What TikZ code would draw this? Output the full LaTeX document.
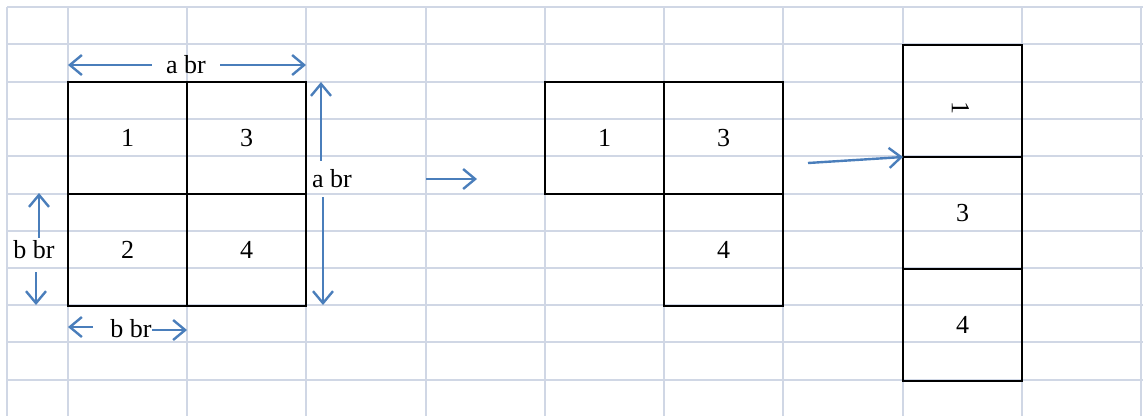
\documentclass[tikz,border=0pt]{standalone}
\usepackage{fontspec}
\setmainfont{Liberation Serif}
\usepackage{tikz}
\usetikzlibrary{arrows.meta,positioning,calc}
\definecolor{gridcol}{HTML}{D0D7E5}
\definecolor{arrowblue}{HTML}{4A7EBB}

\begin{document}
\begin{tikzpicture}[x=1pt, y=-1pt,
  cell/.style={draw, line width=2pt, minimum width=119pt, minimum height=112pt,
               inner sep=0pt, outer sep=0pt, font=\fontsize{26}{31}\selectfont},
  dimlbl/.style={inner sep=0pt, font=\fontsize{26}{31}\selectfont},
  gridln/.style={gridcol, line width=2pt},
  arr/.style={-{Straight Barb[length=12pt, width=20pt]}, line width=2.4pt, arrowblue}
]
  \useasboundingbox (0,0) rectangle (1143,416);
  \foreach \gx in {7,68,187,306,426,545,664,783,903,1022,1141}
    \draw[gridln] (\gx,7) -- (\gx,416);
  \foreach \gy in {7,44,82,119,156,194,231,268,305,342,380}
    \draw[gridln] (7,\gy) -- (1143,\gy);

  \node[cell] (l1) at (127.5,138) {1};
  \node[cell, right=0pt of l1] (l3) {3};
  \node[cell, below=0pt of l1] (l2) {2};
  \node[cell, right=0pt of l2] (l4) {4};

  \node[cell] (m1) at (604.5,138) {1};
  \node[cell, right=0pt of m1] (m3) {3};
  \node[cell, below=0pt of m3] (m4) {4};

  \node[cell] (r1) at (962.5,101) {\raisebox{-14pt}{\rotatebox{-90}{1}}\hspace*{4pt}};
  \node[cell, below=0pt of r1] (r3) {3};
  \node[cell, below=0pt of r3] (r4) {4};

  \node[dimlbl, inner xsep=14pt] (atop) at (186,65) {a br};
  \draw[arr] (atop) -- (l1.north west |- atop);
  \draw[arr] (atop) -- (l3.north east |- atop);

  \node[dimlbl, inner ysep=9pt] (aside) at (332,179) {a br};
  \coordinate (asT) at (321,82);
  \coordinate (asB) at (323,305);
  \draw[arr] (aside.north -| asT) -- (asT);
  \draw[arr] (aside.south -| asB) -- (asB);

  \node[dimlbl, inner ysep=3pt] (bside) at (34,250) {b br};
  \coordinate (bsT) at (39,193);
  \coordinate (bsB) at (36,305);
  \draw[arr] (bside.north -| bsT) -- (bsT);
  \draw[arr] ([yshift=-10pt]bside.south -| bsB) -- (bsB);

  \node[dimlbl] (bbot) at (131,329) {b br};
  \coordinate (bbL) at (68,327);
  \coordinate (bbR) at (187,330);
  \draw[arr] ([xshift=-17pt]bbot.west |- bbL) -- (bbL);
  \draw[arr] (bbot.east |- bbR) -- (bbR);

  \coordinate (midS) at (426,179);
  \coordinate (midE) at (477,179);
  \draw[arr] (midS) -- (midE);

  \coordinate (rgtS) at (808,163);
  \draw[arr] (rgtS) -- (r1.south west);
\end{tikzpicture}
\end{document}
